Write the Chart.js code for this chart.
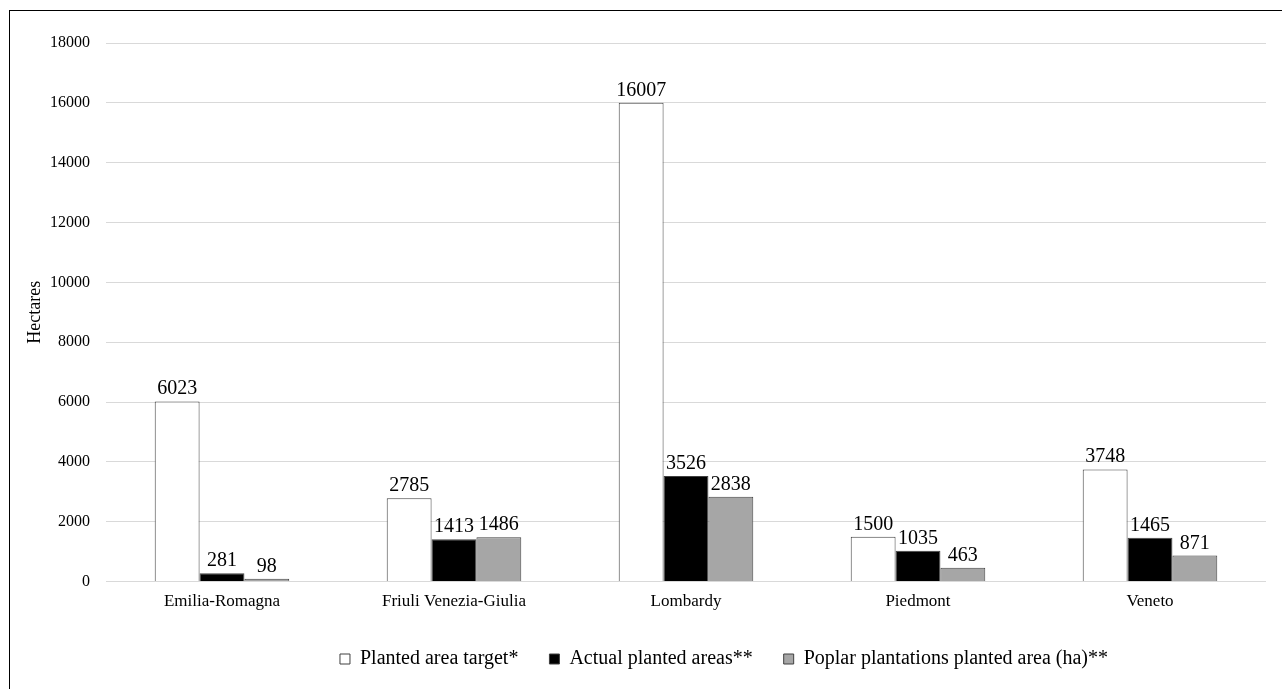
<!DOCTYPE html>
<html>
<head>
<meta charset="utf-8">
<script src="https://cdn.jsdelivr.net/npm/chart.js@4"></script>
<style>
  body { margin: 0; background: #fff; }
  .frame { position: absolute; left: 9px; top: 10px; width: 1300px; height: 700px; border: 1px solid #000; }
  #wrap { position: absolute; left: 0; top: 0; width: 1282px; height: 689px; }
</style>
</head>
<body>
<div class="frame"></div>
<div id="wrap"><canvas id="bar-graph"></canvas></div>
<script>
const regions = ["Emilia-Romagna", "Friuli Venezia-Giulia", "Lombardy", "Piedmont", "Veneto"];
const plantedTarget = [6023, 2785, 16007, 1500, 3748];
const actualPlanted = [281, 1413, 3526, 1035, 1465];
const poplarPlanted = [98, 1486, 2838, 463, 871];
const yTicks = [0, 2000, 4000, 6000, 8000, 10000, 12000, 14000, 16000, 18000];

const serif = "'Liberation Serif', 'Times New Roman', serif";

// writes each bar's value just above it
const valueLabels = {
  id: "valueLabels",
  afterDatasetsDraw(chart) {
    const ctx = chart.ctx;
    ctx.save();
    ctx.font = `20px ${serif}`;
    ctx.fillStyle = "#000";
    ctx.textAlign = "center";
    ctx.textBaseline = "alphabetic";
    chart.data.datasets.forEach((ds, i) => {
      chart.getDatasetMeta(i).data.forEach((bar, j) => {
        ctx.fillText(String(ds.data[j]), bar.x, bar.y - 7);
      });
    });
    ctx.restore();
  },
};

// legend sits a bit right of centre
const legendShift = {
  id: "legendShift",
  afterLayout(chart) {
    chart.legend.left += 81;
    chart.legend.right += 81;
  },
};

new Chart(document.getElementById("bar-graph"), {
  type: "bar",
  data: {
    labels: regions,
    datasets: [
      { label: "Planted area target*", data: plantedTarget, backgroundColor: "#ffffff" },
      { label: "Actual planted areas**", data: actualPlanted, backgroundColor: "#000000" },
      { label: "Poplar plantations planted area (ha)**", data: poplarPlanted, backgroundColor: "#a6a6a6" },
    ].map((ds) => ({ ...ds, borderColor: "#404040", borderWidth: 1, categoryPercentage: 0.58, barPercentage: 1 })),
  },
  options: {
    responsive: true,
    maintainAspectRatio: false,
    animation: false,
    layout: { padding: { left: 20, right: 16, top: 43, bottom: 10 } },
    scales: {
      x: {
        afterFit: (s) => { s.height += 4; },
        grid: { display: false },
        border: { display: false },
        ticks: { color: "#000", font: { family: serif, size: 17 }, padding: 2 },
      },
      y: {
        min: 0,
        max: 18000,
        afterBuildTicks: (s) => { s.ticks = yTicks.map((v) => ({ value: v })); },
        afterFit: (s) => { s.width = 86; },
        grid: { color: "#d9d9d9", lineWidth: 1, drawTicks: false },
        border: { display: false },
        ticks: { color: "#000", font: { family: serif, size: 16 }, padding: 16, callback: (v) => String(v) },
        title: { display: true, text: "Hectares", color: "#000", font: { family: serif, size: 18 }, padding: { top: 4, bottom: 0 } },
      },
    },
    plugins: {
      legend: {
        position: "bottom",
        labels: {
          color: "#000",
          font: { family: serif, size: 20 },
          boxWidth: 10,
          boxHeight: 10,
          padding: 31,
        },
      },
      tooltip: { enabled: false },
    },
  },
  plugins: [valueLabels, legendShift],
});
</script>
</body>
</html>
